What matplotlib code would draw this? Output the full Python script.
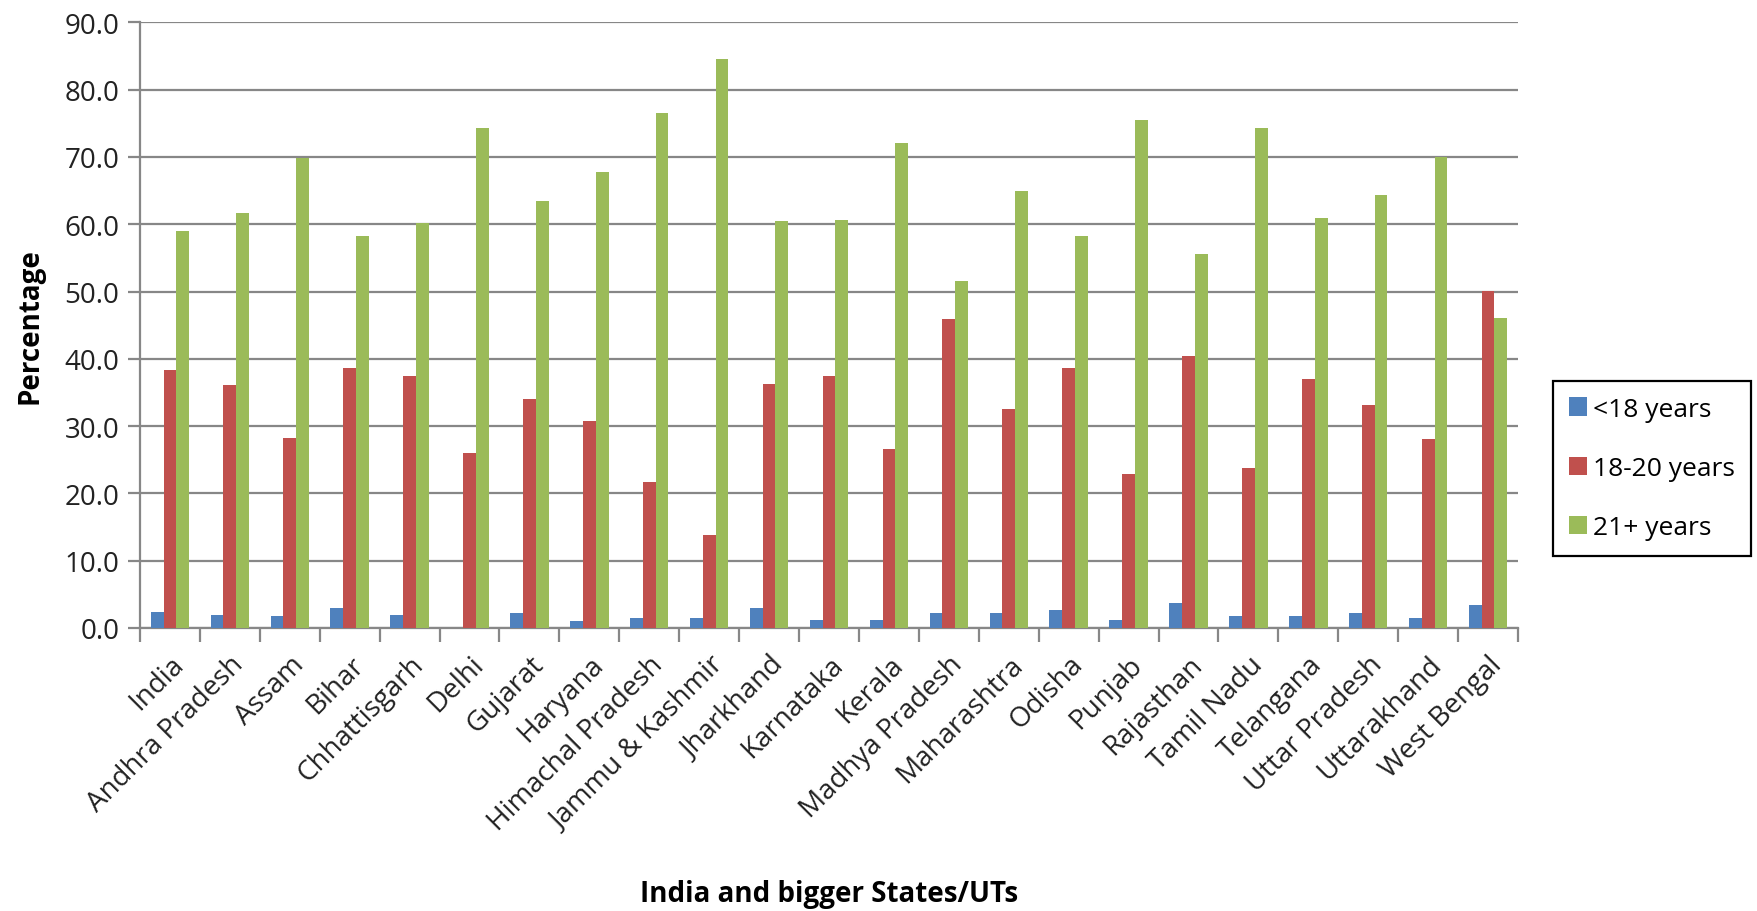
import matplotlib
matplotlib.use("Agg")
import matplotlib.pyplot as plt
import numpy as np

states = ["India", "Andhra Pradesh", "Assam", "Bihar", "Chhattisgarh", "Delhi",
          "Gujarat", "Haryana", "Himachal Pradesh", "Jammu & Kashmir", "Jharkhand",
          "Karnataka", "Kerala", "Madhya Pradesh", "Maharashtra", "Odisha", "Punjab",
          "Rajasthan", "Tamil Nadu", "Telangana", "Uttar Pradesh", "Uttarakhand",
          "West Bengal"]
under18 = [2.4, 2.0, 1.8, 2.9, 2.0, 0.0, 2.3, 1.0, 1.5, 1.5, 3.0, 1.2, 1.2, 2.3,
           2.3, 2.7, 1.2, 3.7, 1.8, 1.8, 2.3, 1.5, 3.4]
age18_20 = [38.3, 36.1, 28.2, 38.7, 37.5, 26.0, 34.1, 30.8, 21.7, 13.8, 36.3, 37.5,
            26.6, 45.9, 32.5, 38.7, 22.9, 40.4, 23.7, 37.0, 33.1, 28.1, 50.1]
age21plus = [59.0, 61.7, 69.9, 58.3, 60.2, 74.3, 63.4, 67.8, 76.5, 84.6, 60.5, 60.6,
             72.0, 51.6, 64.9, 58.2, 75.5, 55.5, 74.3, 60.9, 64.4, 70.0, 46.1]
series_names = ["<18 years", "18-20 years", "21+ years"]
colors = ["#4F81BD", "#C0504D", "#9BBB59"]
yticks = [0, 10, 20, 30, 40, 50, 60, 70, 80, 90]

plt.rcParams['font.family'] = ['Open Sans', 'DejaVu Sans']

fig = plt.figure(figsize=(17.57, 9.12), dpi=100)
ax = fig.add_axes([140/1757, 1-629/912, (1518-140)/1757, (629-23.3)/912])

x = np.arange(len(states))
w = 0.214
grid_c = "#878787"
for i, (vals, name) in enumerate(zip([under18, age18_20, age21plus], series_names)):
    ax.bar(x + (i-1)*w, vals, width=w, color=colors[i], label=name, zorder=3,
           linewidth=0)

ax.set_xlim(-0.5, len(states)-0.5)
ax.set_ylim(0, 90)
ax.set_yticks(yticks)
ax.set_yticklabels([f"{v:.1f}" for v in yticks], fontsize=20, color="#222222")
ax.yaxis.grid(True, color=grid_c, linewidth=1.6, zorder=0)
ax.set_axisbelow(True)
ax.tick_params(axis='y', length=9, width=1.6, color=grid_c, pad=6)

# x ticks at category boundaries, labels at centers
ax.set_xticks(np.arange(len(states)+1) - 0.5)
ax.set_xticklabels([])
ax.set_xticks(x, minor=True)
ax.set_xticklabels(states, minor=True, rotation=45, ha='right',
                   rotation_mode='anchor', fontsize=20, color="#222222")
ax.tick_params(axis='x', which='major', length=10, width=1.6, color=grid_c)
ax.tick_params(axis='x', which='minor', length=0, pad=16)

for s in ['top', 'right']:
    ax.spines[s].set_visible(False)
for s in ['left', 'bottom']:
    ax.spines[s].set_color(grid_c)
    ax.spines[s].set_linewidth(1.6)

ax.set_ylabel("Percentage", fontsize=20, fontweight='bold')
ax.yaxis.set_label_coords(-0.069, 0.5)
fig.text(829/1757, 1-895/912, "India and bigger States/UTs", fontsize=20,
         fontweight='bold', ha='center', va='center')

leg = fig.legend(loc='center left', bbox_to_anchor=(1553/1757, 1-469.5/912),
                 fontsize=19, frameon=True, fancybox=False, framealpha=1,
                 edgecolor='black', handlelength=0.68, handleheight=0.68,
                 handletextpad=0.25, labelspacing=1.3, borderpad=0.6,
                 borderaxespad=0)
leg.get_frame().set_linewidth(1.6)

fig.savefig("out.png", dpi=100)
